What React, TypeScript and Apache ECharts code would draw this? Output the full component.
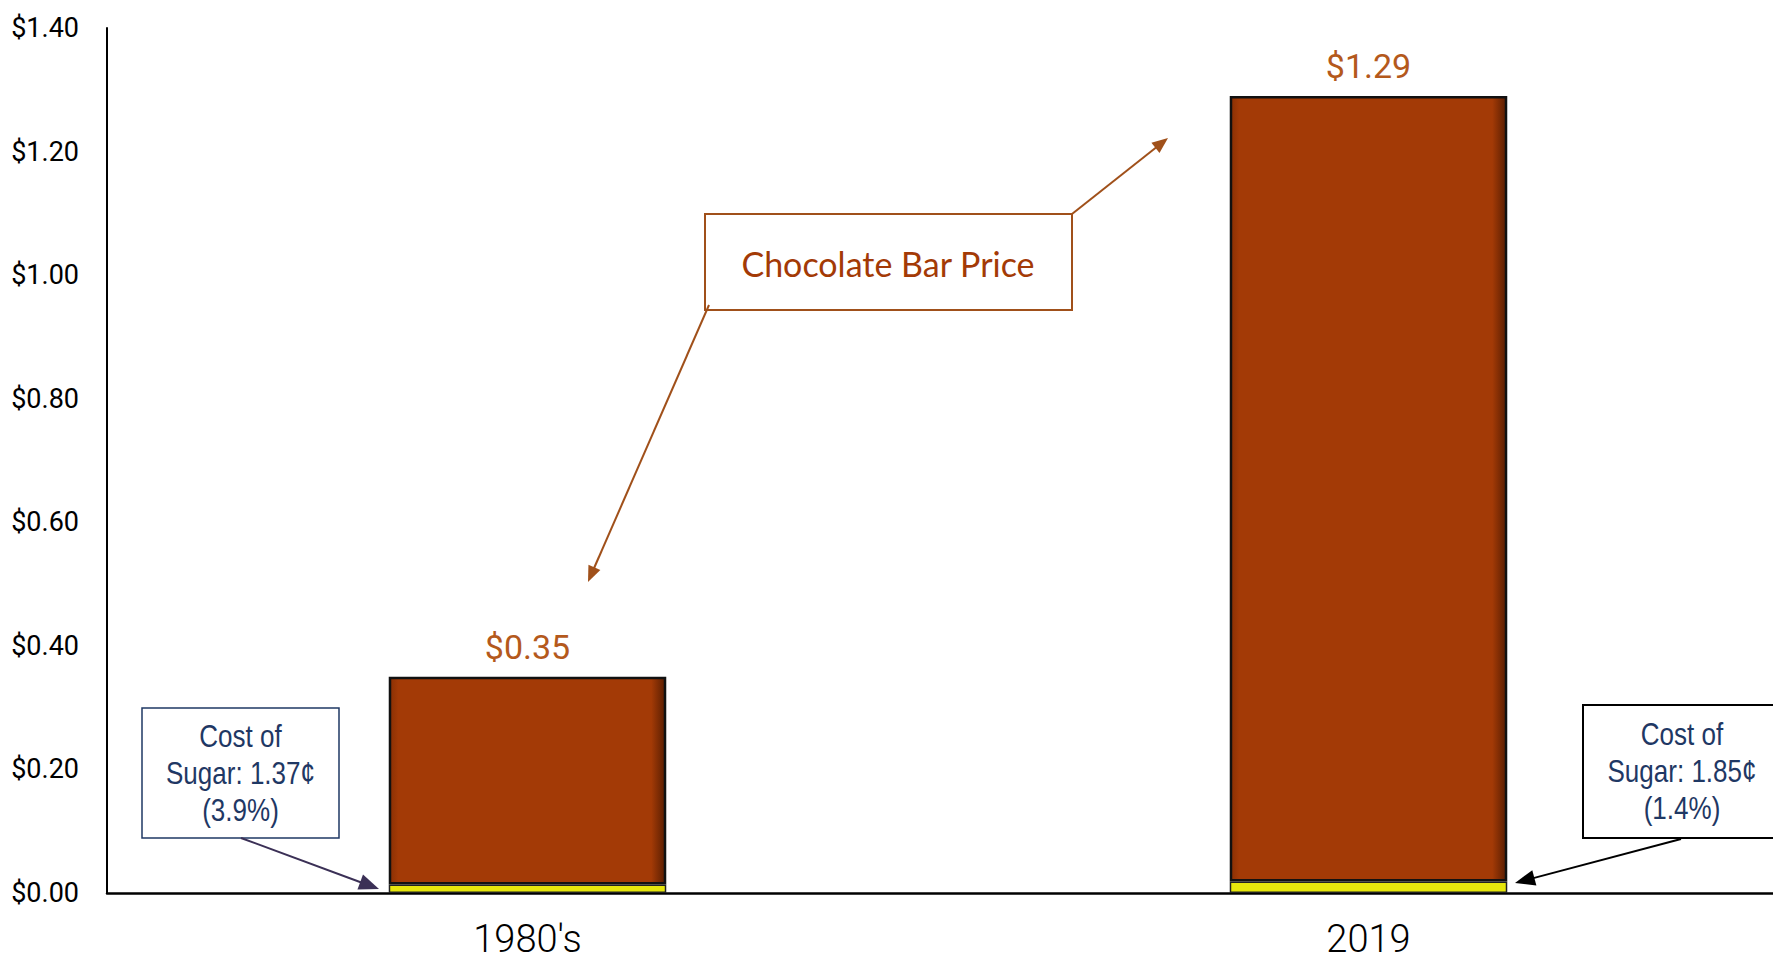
import React, { useEffect, useRef } from "react";
import * as echarts from "echarts";

const categories = ["1980's", "2019"];
const barPrice = [0.35, 1.29];
const sugarCost = [0.0137, 0.0185];
const yTicks = { min: 0, max: 1.4, interval: 0.2 };
const sugarNotes = ["Cost of\nSugar: 1.37¢\n(3.9%)", "Cost of\nSugar: 1.85¢\n(1.4%)"];
const calloutText = "Chocolate Bar Price";

const NARROW = "Roboto, 'Liberation Sans', sans-serif";

function arrowHead(x1: number, y1: number, x2: number, y2: number, color: string, len = 16, half = 7) {
  const dx = x2 - x1, dy = y2 - y1;
  const d = Math.sqrt(dx * dx + dy * dy);
  const ux = dx / d, uy = dy / d;
  const bx = x2 - ux * len, by = y2 - uy * len;
  const px = -uy * half, py = ux * half;
  return {
    type: "polygon",
    shape: { points: [[x2, y2], [bx + px, by + py], [bx - px, by - py]] },
    style: { fill: color },
    z: 20,
  };
}

function arrow(x1: number, y1: number, x2: number, y2: number, color: string, width = 2, len = 16, half = 7) {
  const dx = x2 - x1, dy = y2 - y1;
  const d = Math.sqrt(dx * dx + dy * dy);
  const ex = x2 - (dx / d) * len * 0.8, ey = y2 - (dy / d) * len * 0.8;
  return [
    { type: "line", shape: { x1, y1, x2: ex, y2: ey }, style: { stroke: color, lineWidth: width }, z: 20 },
    arrowHead(x1, y1, x2, y2, color, len, half),
  ];
}

function noteText(x: number, y: number, text: string) {
  return {
    type: "text",
    x, y,
    scaleX: 0.84,
    style: {
      text, fill: "#1F3864", fontFamily: "'Liberation Sans', Arial, sans-serif", fontSize: 31,
      lineHeight: 37, align: "center", verticalAlign: "middle",
    },
    z: 16,
  };
}

export default function App() {
  const ref = useRef<HTMLDivElement>(null);
  useEffect(() => {
    if (!ref.current) return;
    const chart = echarts.init(ref.current, null, { renderer: "svg" });
    const chocolate = barPrice.map((p, i) => +(p - sugarCost[i]).toFixed(4));
    const option: any = {
      animation: false,
      backgroundColor: "#ffffff",
      grid: { left: 107, right: 0, top: 28, bottom: 70, containLabel: false },
      xAxis: {
        type: "category",
        data: categories,
        axisLine: { show: true, lineStyle: { color: "#000", width: 2.5 } },
        axisTick: { show: false },
        axisLabel: { fontFamily: NARROW, fontSize: 38, fontWeight: 300, color: "#000", margin: 27 },
      },
      yAxis: {
        type: "value",
        min: yTicks.min,
        max: yTicks.max,
        interval: yTicks.interval,
        axisLine: { show: true, lineStyle: { color: "#000", width: 2 } },
        axisTick: { show: false },
        splitLine: { show: false },
        axisLabel: {
          fontFamily: NARROW,
          fontSize: 27,
          color: "#000",
          margin: 28,
          formatter: (v: number) => "$" + v.toFixed(2),
        },
      },
      series: [
        {
          name: "Sugar",
          type: "bar",
          stack: "total",
          barWidth: "33%",
          data: sugarCost,
          itemStyle: { color: "#E6E60C", borderColor: "#222", borderWidth: 1.5 },
        },
        {
          name: "Chocolate Bar Price",
          type: "bar",
          stack: "total",
          barWidth: "33%",
          data: chocolate,
          itemStyle: {
            color: {
              type: "linear", x: 0, y: 0, x2: 1, y2: 0,
              colorStops: [
                { offset: 0, color: "#8A3004" },
                { offset: 0.03, color: "#A33A06" },
                { offset: 0.95, color: "#A33A06" },
                { offset: 1, color: "#5A1E02" },
              ],
            },
            borderColor: "#111",
            borderWidth: 2.5,
          },
          label: {
            show: true,
            position: "top",
            distance: 13,
            fontFamily: NARROW,
            fontSize: 34,
            color: "#B4591C",
            formatter: (p: any) => "$" + barPrice[p.dataIndex].toFixed(2),
          },
        },
      ],
      graphic: [
        {
          type: "rect",
          shape: { x: 705, y: 214, width: 367, height: 96 },
          style: { fill: "#fff", stroke: "#A0501A", lineWidth: 2 },
          z: 15,
        },
        {
          type: "text",
          x: 888, y: 263,
          style: {
            text: calloutText, fill: "#A33A06", font: "34px Lato, 'Open Sans', sans-serif",
            align: "center", verticalAlign: "middle",
          },
          z: 16,
        },
        ...arrow(709, 305, 588, 582, "#A0501A", 2, 16, 6.5),
        ...arrow(1072, 214, 1168, 138, "#A0501A", 2, 16, 6.5),
        {
          type: "rect",
          shape: { x: 142, y: 708, width: 197, height: 130 },
          style: { fill: "#fff", stroke: "#1F3864", lineWidth: 1.5 },
          z: 15,
        },
        noteText(240.5, 773, sugarNotes[0]),
        ...arrow(241, 838, 379, 889, "#3B3056", 2, 20, 8),
        {
          type: "rect",
          shape: { x: 1583, y: 705, width: 220, height: 133 },
          style: { fill: "#fff", stroke: "#000", lineWidth: 2 },
          z: 15,
        },
        noteText(1682, 771, sugarNotes[1]),
        ...arrow(1681, 839, 1515, 883, "#000", 2, 20, 8),
      ],
    };
    chart.setOption(option);
    return () => chart.dispose();
  }, []);
  return (
    <div
      ref={ref}
      style={{ position: "fixed", left: 0, top: 0, width: 1789, height: 963, background: "#fff" }}
    />
  );
}
